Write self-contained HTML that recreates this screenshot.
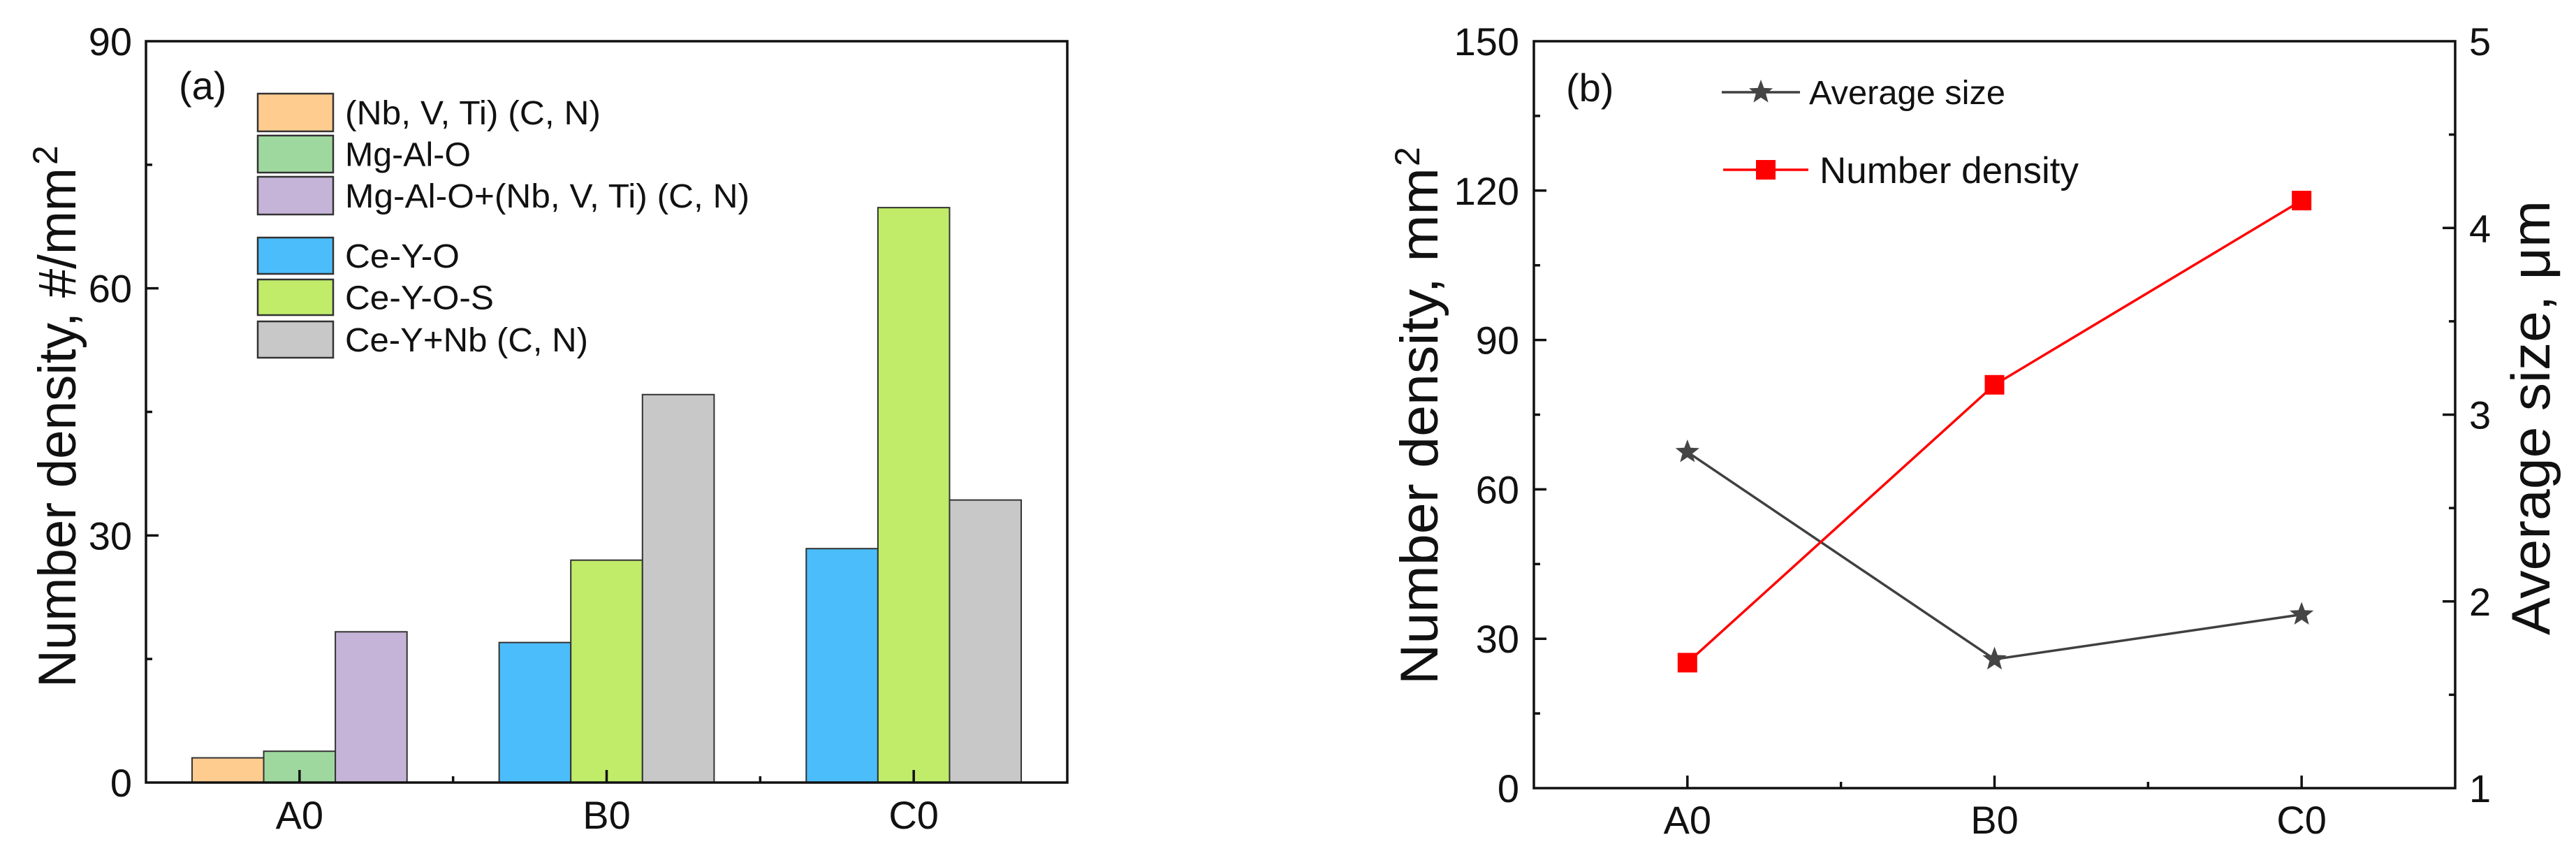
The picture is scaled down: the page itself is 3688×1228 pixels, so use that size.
<!DOCTYPE html>
<html><head><meta charset="utf-8"><style>
html,body{margin:0;padding:0;background:#fff;}
svg{display:block;font-family:"Liberation Sans",Arial,sans-serif;}
</style></head><body>
<svg id="chart" width="3688" height="1228" viewBox="0 0 3688 1228" xmlns="http://www.w3.org/2000/svg">
<g id="pa"></g>
<g id="pb"></g>
</svg>
<script>
// ---- Panel (a) data ----
const catsA = ["A0", "B0", "C0"];
const seriesNamesA = ["(Nb, V, Ti) (C, N)", "Mg-Al-O", "Mg-Al-O+(Nb, V, Ti) (C, N)", "Ce-Y-O", "Ce-Y-O-S", "Ce-Y+Nb (C, N)"];
const seriesColorsA = ["#FFCC90", "#9FD89F", "#C6B4D8", "#4CBDFB", "#C0EC6A", "#C8C8C8"];
// bars: [category index, series index, value]
const barCat = [0, 0, 0, 1, 1, 1, 2, 2, 2];
const barSeries = [0, 1, 2, 3, 4, 5, 3, 4, 5];
const barValues = [3.0, 3.8, 18.3, 17.0, 27.0, 47.1, 28.4, 69.8, 34.3];
const yTicksA = [0, 30, 60, 90];
// ---- Panel (b) data ----
const catsB = ["A0", "B0", "C0"];
const densityB = [25.2, 81.0, 118.0];
const sizeB = [2.80, 1.69, 1.93];
const yTicksBL = [0, 30, 60, 90, 120, 150];
const yTicksBR = [1, 2, 3, 4, 5];

const NS = "http://www.w3.org/2000/svg";
function mk(parent, tag, attrs, text) {
  const e = document.createElementNS(NS, tag);
  for (const k in attrs) e.setAttribute(k, attrs[k]);
  if (text !== undefined) e.textContent = text;
  parent.appendChild(e);
  return e;
}
const AX = 3.5;

// ================= Panel A =================
const pa = document.getElementById("pa");
const A = {l: 209, r: 1528, t: 59, b: 1120, ymax: 90};
const xA = i => A.l + (i + 0.5) * (A.r - A.l) / 3;
const yA = v => A.b - v / A.ymax * (A.b - A.t);
const unitA = (A.r - A.l) / 3;
const barW = unitA * 0.7 / 3;
// bars
for (let k = 0; k < barValues.length; k++) {
  const c = barCat[k], s = barSeries[k];
  const pos = (k % 3);
  const x0 = xA(c) - unitA * 0.35 + pos * barW;
  const r = mk(pa, "rect", {x: x0, y: yA(barValues[k]), width: barW, height: yA(0) - yA(barValues[k]), fill: seriesColorsA[s], stroke: "#333", "stroke-width": 2});
  
  
}
// frame
const fa = mk(pa, "rect", {x: A.l, y: A.t, width: A.r - A.l, height: A.b - A.t, fill: "none", stroke: "#111", "stroke-width": AX});


// y ticks
for (const v of yTicksA) {
  const y = yA(v);
  if (v > 0 && v < A.ymax) mk(pa, "line", {x1: A.l, x2: A.l + 18, y1: y, y2: y, stroke: "#111", "stroke-width": AX});
  const t = mk(pa, "text", {x: 189, y: y + 20, "font-size": 56, "text-anchor": "end", fill: "#111"}, String(v));
  
  
}
for (let v = 15; v < A.ymax; v += 30) {
  const y = yA(v);
  mk(pa, "line", {x1: A.l, x2: A.l + 9, y1: y, y2: y, stroke: "#111", "stroke-width": AX});
}
// x ticks
for (let i = 0; i < catsA.length; i++) {
  mk(pa, "line", {x1: xA(i), x2: xA(i), y1: A.b, y2: A.b - 18, stroke: "#111", "stroke-width": AX});
  if (i < catsA.length - 1) mk(pa, "line", {x1: xA(i + 0.5), x2: xA(i + 0.5), y1: A.b, y2: A.b - 9, stroke: "#111", "stroke-width": AX});
  const t = mk(pa, "text", {x: xA(i), y: 1186, "font-size": 56, "text-anchor": "middle", fill: "#111"}, catsA[i]);
  
  
}
// y title
const ta = mk(pa, "text", {transform: "translate(108,984) rotate(-90)", "font-size": 76, fill: "#111", textLength: 744, lengthAdjust: "spacingAndGlyphs"}, "Number density, #/mm");


const ta2 = mk(pa, "text", {transform: "translate(82,236) rotate(-90)", "font-size": 50, fill: "#111"}, "2");


// panel label
const la = mk(pa, "text", {x: 256, y: 142, "font-size": 56, fill: "#111"}, "(a)");


// legend
const legBoxY = [134, 194, 253, 340, 400, 460];
const legBoxH = [54, 53, 54, 52, 51, 52];
const legTextW = [366, 180, 579, 164, 213, 348];
for (let s = 0; s < seriesNamesA.length; s++) {
  const g = mk(pa, "g", {});
  
  
  mk(g, "rect", {x: 369, y: legBoxY[s], width: 108, height: legBoxH[s], fill: seriesColorsA[s], stroke: "#333", "stroke-width": 2.5});
  mk(g, "text", {x: 494, y: legBoxY[s] + legBoxH[s] / 2 + 17, "font-size": 48, fill: "#111", textLength: legTextW[s], lengthAdjust: "spacingAndGlyphs"}, seriesNamesA[s]);
}

// ================= Panel B =================
const pb = document.getElementById("pb");
const B = {l: 2196, r: 3515, t: 59, b: 1128};
const xB = i => B.l + (i + 0.5) * (B.r - B.l) / 3;
const yBL = v => B.b - v / 150 * (B.b - B.t);
const yBR = v => B.b - (v - 1) / 4 * (B.b - B.t);
const fb = mk(pb, "rect", {x: B.l, y: B.t, width: B.r - B.l, height: B.b - B.t, fill: "none", stroke: "#111", "stroke-width": AX});


for (const v of yTicksBL) {
  const y = yBL(v);
  if (v > 0 && v < 150) mk(pb, "line", {x1: B.l, x2: B.l + 18, y1: y, y2: y, stroke: "#111", "stroke-width": AX});
  const t = mk(pb, "text", {x: 2175, y: y + 20, "font-size": 56, "text-anchor": "end", fill: "#111"}, String(v));
  
  
}
for (let v = 15; v < 150; v += 30) mk(pb, "line", {x1: B.l, x2: B.l + 9, y1: yBL(v), y2: yBL(v), stroke: "#111", "stroke-width": AX});
for (const v of yTicksBR) {
  const y = yBR(v);
  if (v > 1 && v < 5) mk(pb, "line", {x1: B.r, x2: B.r - 18, y1: y, y2: y, stroke: "#111", "stroke-width": AX});
  const t = mk(pb, "text", {x: 3535, y: y + 20, "font-size": 56, fill: "#111"}, String(v));
  
  
}
for (let v = 1.5; v < 5; v += 1) mk(pb, "line", {x1: B.r, x2: B.r - 9, y1: yBR(v), y2: yBR(v), stroke: "#111", "stroke-width": AX});
for (let i = 0; i < catsB.length; i++) {
  mk(pb, "line", {x1: xB(i), x2: xB(i), y1: B.b, y2: B.b - 18, stroke: "#111", "stroke-width": AX});
  if (i < catsB.length - 1) mk(pb, "line", {x1: xB(i + 0.5), x2: xB(i + 0.5), y1: B.b, y2: B.b - 9, stroke: "#111", "stroke-width": AX});
  const t = mk(pb, "text", {x: xB(i), y: 1193, "font-size": 56, "text-anchor": "middle", fill: "#111"}, catsB[i]);
  
  
}
function starPath(cx, cy, R) {
  const r = R * 0.42; let d = "";
  for (let k = 0; k < 10; k++) {
    const a = -Math.PI / 2 + k * Math.PI / 5, rr = k % 2 ? r : R;
    d += (k ? "L" : "M") + (cx + rr * Math.cos(a)).toFixed(1) + "," + (cy + rr * Math.sin(a)).toFixed(1);
  }
  return d + "Z";
}
// size line (gray)
const ls = mk(pb, "polyline", {points: sizeB.map((v, i) => xB(i) + "," + yBR(v)).join(" "), fill: "none", stroke: "#404040", "stroke-width": 3.5});


for (let i = 0; i < sizeB.length; i++) {
  const p = mk(pb, "path", {d: starPath(xB(i), yBR(sizeB[i]), 18), fill: "#454545"});
  
  
}
// density line (red)
const ld = mk(pb, "polyline", {points: densityB.map((v, i) => xB(i) + "," + yBL(v)).join(" "), fill: "none", stroke: "#FF0000", "stroke-width": 3.5});


for (let i = 0; i < densityB.length; i++) {
  const p = mk(pb, "rect", {x: xB(i) - 14, y: yBL(densityB[i]) - 14, width: 28, height: 28, fill: "#FF0000"});
  
  
}
// titles
const tbl = mk(pb, "text", {transform: "translate(2058,980) rotate(-90)", "font-size": 76, fill: "#111", textLength: 740, lengthAdjust: "spacingAndGlyphs"}, "Number density, mm");


const tbl2 = mk(pb, "text", {transform: "translate(2032,238) rotate(-90)", "font-size": 50, fill: "#111"}, "2");


const tbr = mk(pb, "text", {transform: "translate(3650,909) rotate(-90)", "font-size": 78, fill: "#111", textLength: 622, lengthAdjust: "spacingAndGlyphs"}, "Average size, μm");


const lb = mk(pb, "text", {x: 2242, y: 145, "font-size": 56, fill: "#111"}, "(b)");


// legend
const g1 = mk(pb, "g", {});


mk(g1, "line", {x1: 2465, x2: 2577, y1: 132, y2: 132, stroke: "#404040", "stroke-width": 3.5});
mk(g1, "path", {d: starPath(2521, 132, 18), fill: "#454545"});
mk(g1, "text", {x: 2590, y: 149, "font-size": 48, fill: "#111", textLength: 281, lengthAdjust: "spacingAndGlyphs"}, "Average size");
const g2 = mk(pb, "g", {});


mk(g2, "line", {x1: 2467, x2: 2589, y1: 243, y2: 243, stroke: "#FF0000", "stroke-width": 3.5});
mk(g2, "rect", {x: 2514, y: 229, width: 28, height: 28, fill: "#FF0000"});
mk(g2, "text", {x: 2605, y: 262, "font-size": 53, fill: "#111", textLength: 371, lengthAdjust: "spacingAndGlyphs"}, "Number density");
</script>
</body></html>
